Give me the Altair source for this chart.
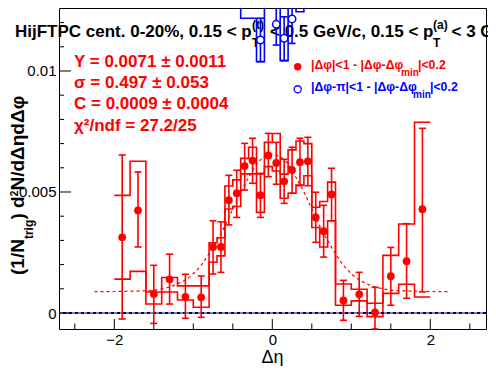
import altair as alt
import pandas as pd

E = 1e-3  # the lists below are in units of 1e-3

# ---- near side (red) data points ----
near_eta = [-1.9, -1.7, -1.5, -1.3, -1.1, -0.9, -0.75, -0.65, -0.55, -0.45, -0.35, -0.25, -0.15, -0.05,
            0.05, 0.15, 0.25, 0.35, 0.45, 0.55, 0.65, 0.75, 0.9, 1.1, 1.3, 1.5, 1.7, 1.9]
near_val = [3.13, 4.24, 0.79, 1.39, 0.67, 0.65, 2.73, 2.73, 4.66, 4.95, 6.07, 6.30, 4.87, 6.51,
            6.20, 5.44, 5.91, 6.23, 6.27, 3.95, 3.38, 4.90, 0.52, 0.77, 0.03, 1.52, 2.14, 4.29]
near_hi = [6.53, 5.83, 1.97, 2.43, 1.60, 1.53, 3.81, 3.77, 5.69, 5.90, 7.01, 7.22, 5.77, 7.42,
           7.05, 6.35, 6.85, 7.22, 7.26, 4.99, 4.45, 5.98, 1.35, 1.68, 1.06, 2.71, 3.69, 7.63]
near_lo = [-0.25, 2.73, -0.43, 0.37, -0.22, -0.18, 1.61, 1.68, 3.64, 3.95, 5.08, 5.36, 3.95, 5.63,
           5.32, 4.53, 4.95, 5.26, 5.26, 2.92, 2.31, 3.81, -0.30, -0.14, -0.66, 0.32, 0.61, 0.87]

# ---- red systematic step histograms ----
bin_edges = [-2.0, -1.8, -1.6, -1.4, -1.2, -1.0, -0.8, -0.7, -0.6, -0.5, -0.4, -0.3, -0.2, -0.1, 0.0,
             0.1, 0.2, 0.3, 0.4, 0.5, 0.6, 0.7, 0.8, 1.0, 1.2, 1.4, 1.6, 1.8, 2.0]
sys_upper = [4.86, 6.27, 0.87, 1.47, 1.12, 1.12, 2.90, 3.11, 5.25, 5.50, 6.39, 6.85, 5.75, 7.05,
             7.42, 5.74, 6.74, 7.11, 7.00, 4.37, 4.61, 5.41, 1.20, 0.98, 0.40, 2.38, 3.68, 7.88]
sys_lower = [1.40, 1.72, 0.37, 0.87, 0.54, 0.24, 2.10, 2.36, 4.30, 4.40, 5.75, 5.75, 4.16, 6.05,
             5.87, 4.74, 4.95, 5.29, 5.67, 3.53, 2.73, 3.81, 0.32, 0.50, -0.15, 0.81, 1.19, 0.66]

# ---- fit curve ----
fit_eta = [-2.25, -1.6, -1.4, -1.2, -1.0, -0.9, -0.8, -0.7, -0.6, -0.5, -0.4, -0.3, -0.2, -0.1, 0.0,
           0.1, 0.2, 0.3, 0.4, 0.5, 0.6, 0.7, 0.8, 0.9, 1.0, 1.2, 1.4, 1.6, 2.25]
fit_val = [0.88, 0.92, 1.00, 1.20, 1.62, 1.98, 2.45, 3.00, 3.60, 4.30, 5.00, 5.60, 6.15, 6.45, 6.55,
           6.45, 6.15, 5.60, 5.00, 4.30, 3.60, 3.00, 2.45, 1.98, 1.62, 1.20, 1.00, 0.92, 0.88]

# ---- away side (blue), only the part that shows ----
away_eta = [-0.15, 0.05, 0.15, 0.25]
away_val = [11.28, 11.93, 11.35, 12.15]
away_hi = [12.18, 12.79, 12.24, 13.15]
away_lo = [10.39, 11.07, 10.43, 11.14]
away_edges = [-0.5, -0.4, -0.3, -0.2, -0.1, 0.0, 0.1, 0.2, 0.3, 0.4, 0.5]
away_lower = [14.0, 12.18, 12.18, 10.38, 14.0, 14.0, 10.43, 13.5, 12.45, 14.0]

x_major = [-2, 0, 2]
x_minor = [-2.5, -1.5, -1, -0.5, 0.5, 1, 1.5, 2.5]
y_major = [0, 5, 10]
y_minor = [1, 2, 3, 4, 6, 7, 8, 9, 11, 12]

FONT = "Liberation Sans"
RED = "#ff0000"
BLUE = "#0000ff"
X0, Y0 = 59, 8          # page position of plot-area origin
W, H = 427, 321

xs = alt.Scale(domain=[-2.70, 2.705], nice=False, zero=False)
ys = alt.Scale(domain=[-0.000661, 0.012603], nice=False, zero=False)
xaxis = alt.Axis(values=x_major, format="~g", labelFontSize=15, labelFont=FONT, labelColor="black",
                 ticks=False, tickSize=0, domain=False, grid=False, labelPadding=3,
                 labelFlush=False, labelOverlap=False, title=None)
yaxis = alt.Axis(values=[v * E for v in y_major], format="~g", labelFontSize=15, labelFont=FONT,
                 labelColor="black", ticks=False, tickSize=0, domain=False, grid=False,
                 labelPadding=3, labelFlush=False, labelOverlap=False, title=None)


def X(f):
    return alt.X(f"{f}:Q", scale=xs, axis=xaxis, title=None)


def Y(f):
    return alt.Y(f"{f}:Q", scale=ys, axis=yaxis, title=None)


def Y2(f):
    return alt.Y2(f"{f}:Q")


anchor = pd.DataFrame({"a": [0]})


def label(txt, px, py, size, color="black", weight="bold", angle=0, align="left"):
    return alt.Chart(anchor).mark_text(
        text=txt, fontSize=size, fontWeight=weight, color=color, angle=angle,
        align=align, baseline="alphabetic", font=FONT
    ).encode(x=alt.value(px - X0), y=alt.value(py - Y0))


def steps(edges, vals, name):
    xs_ = list(edges[:len(vals)]) + [edges[len(vals)]]
    ys_ = [v * E for v in vals] + [vals[-1] * E]
    return pd.DataFrame({"x": xs_, "y": ys_, "s": name})


near = pd.DataFrame({"x": near_eta, "y": [v * E for v in near_val],
                     "hi": [v * E for v in near_hi], "lo": [v * E for v in near_lo]})
away = pd.DataFrame({"x": away_eta, "y": [v * E for v in away_val],
                     "hi": [v * E for v in away_hi], "lo": [v * E for v in away_lo]})
sysdf = pd.concat([steps(bin_edges, sys_upper, "up"), steps(bin_edges, sys_lower, "lo")])
awaysys = steps(away_edges, away_lower, "lo")
fitdf = pd.DataFrame({"x": fit_eta, "y": [v * E for v in fit_val]})

PHI = "\u03c6"
DEL = "\u0394"

layers = []

# title (drawn first; blue marks go over it)
layers += [
    label("HijFTPC cent. 0-20%, 0.15 < p", 15, 36.7, 17),
    label("T", 252, 47, 12),
    label("(t)", 252, 28.5, 12),
    label("< 0.5 GeV/c, 0.15 < p", 270, 36.7, 17),
    label("T", 433, 47, 12),
    label("(a)", 433, 28.5, 12),
    label("< 3 GeV/c", 451.5, 36.7, 17),
]

# ticks inside the frame
layers += [
    alt.Chart(pd.DataFrame({"v": x_major})).mark_rule(color="black", strokeWidth=1).encode(
        x=X("v"), y=alt.value(H), y2=alt.value(H - 10)),
    alt.Chart(pd.DataFrame({"v": x_minor})).mark_rule(color="black", strokeWidth=1).encode(
        x=X("v"), y=alt.value(H), y2=alt.value(H - 5.5)),
    alt.Chart(pd.DataFrame({"v": [v * E for v in y_major]})).mark_rule(color="black", strokeWidth=1).encode(
        y=Y("v"), x=alt.value(0), x2=alt.value(12)),
    alt.Chart(pd.DataFrame({"v": [v * E for v in y_minor]})).mark_rule(color="black", strokeWidth=1).encode(
        y=Y("v"), x=alt.value(0), x2=alt.value(5)),
]

# red systematic steps
layers.append(alt.Chart(sysdf).mark_line(interpolate="step-after", color=RED, strokeWidth=1.6).encode(
    x=X("x"), y=Y("y"), detail="s:N"))

# fit curve
layers.append(alt.Chart(fitdf).mark_line(interpolate="monotone", color=RED, strokeWidth=1.2,
                                          strokeDash=[3, 3]).encode(x=X("x"), y=Y("y")))

# zero line
zero = pd.DataFrame({"v": [0.0]})
layers.append(alt.Chart(zero).mark_rule(color="#000080", strokeWidth=1).encode(y=Y("v")))
layers.append(alt.Chart(zero).mark_rule(color="#000060", strokeWidth=2.2, strokeDash=[3, 3]).encode(y=Y("v")))

# red error bars, caps, points
layers += [
    alt.Chart(near).mark_rule(color=RED, strokeWidth=1.6).encode(x=X("x"), y=Y("lo"), y2=Y2("hi")),
    alt.Chart(near).mark_tick(color=RED, orient="horizontal", size=7, thickness=1.6, opacity=1).encode(x=X("x"), y=Y("hi")),
    alt.Chart(near).mark_tick(color=RED, orient="horizontal", size=7, thickness=1.6, opacity=1).encode(x=X("x"), y=Y("lo")),
    alt.Chart(near).mark_point(shape="circle", filled=True, color=RED, size=60, opacity=1).encode(x=X("x"), y=Y("y")),
]

# blue (away side)
layers += [
    alt.Chart(awaysys).mark_line(interpolate="step-after", color=BLUE, strokeWidth=1.6).encode(
        x=X("x"), y=Y("y")),
    alt.Chart(away).mark_rule(color=BLUE, strokeWidth=1.6).encode(x=X("x"), y=Y("lo"), y2=Y2("hi")),
    alt.Chart(away).mark_tick(color=BLUE, orient="horizontal", size=7, thickness=1.6, opacity=1).encode(x=X("x"), y=Y("hi")),
    alt.Chart(away).mark_tick(color=BLUE, orient="horizontal", size=7, thickness=1.6, opacity=1).encode(x=X("x"), y=Y("lo")),
    alt.Chart(away).mark_point(shape="circle", filled=True, fill="white", stroke=BLUE, strokeWidth=1.5,
                               size=55, opacity=1).encode(x=X("x"), y=Y("y")),
]

# fit results
layers += [
    label("Y = 0.0071 \u00b1 0.0011", 74, 66.7, 17, RED),
    label("\u03c3 = 0.497 \u00b1 0.053", 74, 87.8, 17, RED),
    label("C = 0.0009 \u00b1 0.0004", 74, 109.3, 17, RED),
    label("\u03c7\u00b2/ndf = 27.2/25", 74, 131, 17, RED),
]

# legend
layers += [
    alt.Chart(anchor).mark_point(shape="circle", filled=True, color=RED, size=55, opacity=1).encode(
        x=alt.value(297.7 - X0), y=alt.value(66.7 - Y0)),
    alt.Chart(anchor).mark_point(shape="circle", filled=True, fill="white", stroke=BLUE, strokeWidth=1.3,
                                 size=50, opacity=1).encode(x=alt.value(297.7 - X0), y=alt.value(89.3 - Y0)),
    label(f"|{DEL}{PHI}|<1 - |{DEL}{PHI}-{DEL}{PHI}", 311, 69.3, 12.3, RED),
    label("min", 401, 76, 10, RED),
    label("|<0.2", 418, 69.3, 12.3, RED),
    label(f"|{DEL}{PHI}-\u03c0|<1 - |{DEL}{PHI}-{DEL}{PHI}", 311, 90.7, 12.3, BLUE),
    label("min", 413, 98, 10, BLUE),
    label("|<0.2", 430, 90.7, 12.3, BLUE),
]

# axis titles
layers += [
    label("\u0394\u03b7", 272.5, 363.3, 18, weight="normal", align="center"),
    label("(1/N", 24, 275, 19, angle=270),
    label("trig", 33, 239.1, 12, angle=270),
    label(") d", 24, 219.5, 19, angle=270),
    label("2", 18, 196.3, 10, angle=270),
    label(f"N/d{DEL}\u03b7d{DEL}{PHI}", 24, 190.5, 19, angle=270),
]

chart = alt.layer(*layers).properties(
    width=W, height=H,
    autosize=alt.AutoSizeParams(type="none"),
    padding={"left": X0 - 8, "top": 0, "right": 2, "bottom": 37},
    background="white",
).configure_view(stroke="black", strokeWidth=1)

chart.save("out.html", embed_options={"renderer": "svg", "actions": False})
